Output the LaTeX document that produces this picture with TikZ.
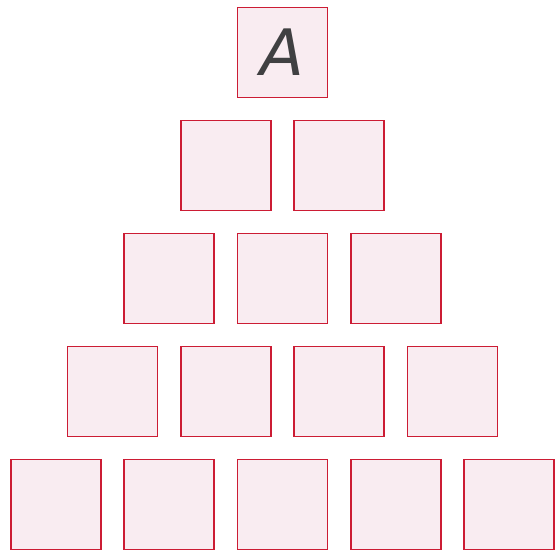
\documentclass[tikz,border=0pt]{standalone}
\usepackage{fontspec}
\newfontfamily\handfont{DejaVu Sans}
\definecolor{boxred}{RGB}{204,28,52}
\definecolor{boxpink}{RGB}{249,236,241}
\definecolor{inkgray}{RGB}{64,64,66}

\begin{document}
\begin{tikzpicture}[
    x=1pt, y=-1pt,
    cellbox/.style={draw=boxred, fill=boxpink, line width=1.6pt, minimum size=90pt, inner sep=0pt},
    letter/.style={font=\handfont\itshape\fontsize{64}{64}\selectfont, text=inkgray}
]
    \useasboundingbox (0,0) rectangle (558,550);

    % apex cell with the letter
    \node[cellbox, letter] (c11) at (282.5, 52.5) {A};

    % rows below, one more cell per row
    \foreach \r in {2,...,5} {
        \foreach \k in {1,...,\r} {
            \node[cellbox] (c\r\k) at ({282.5 + (\k - (\r+1)/2)*113.3}, {52.5 + (\r-1)*113}) {};
        }
    }
\end{tikzpicture}
\end{document}
